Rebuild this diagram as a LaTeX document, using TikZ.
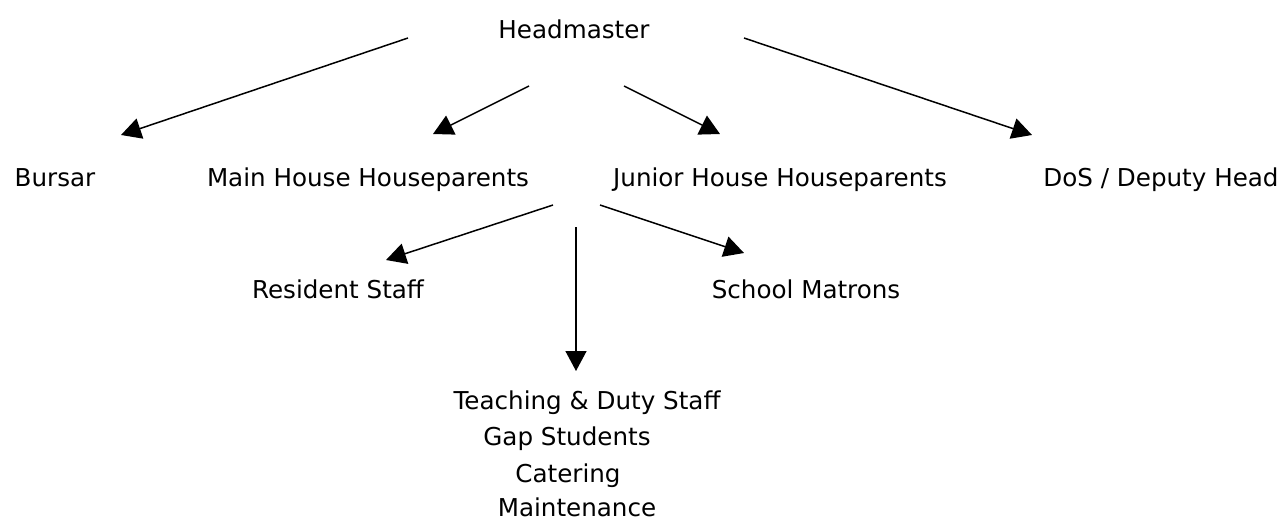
\documentclass[tikz,border=0pt]{standalone}
\usepackage{fontspec}
\setmainfont{DejaVu Sans}
\usetikzlibrary{arrows.meta}
\begin{document}
\begin{tikzpicture}[x=1pt,y=-1pt,
  lbl/.style={inner sep=0pt,anchor=base,font=\fontsize{24.6}{29}\selectfont},
  conn/.style={line width=1.5pt,-{Triangle[length=20pt,width=21pt]}}]
\useasboundingbox[fill=white] (0,0) rectangle (1282,520);
% text nodes
\node[lbl] (head) at (574,38) {Headmaster};
\node[lbl] (bursar) at (55,186) {Bursar};
\node[lbl] (main) at (368,186) {Main House Houseparents};
\node[lbl] (junior) at (780,186) {Junior House Houseparents};
\node[lbl] (dos) at (1161,186) {DoS / Deputy Head};
\node[lbl] (resident) at (338,298) {Resident Staff};
\node[lbl] (matrons) at (806,298) {School Matrons};
\node[lbl] (teach) at (587,409) {Teaching \& Duty Staff};
\node[lbl] (gap) at (567,445) {Gap Students};
\node[lbl] (cater) at (568,482) {Catering};
\node[lbl] (maint) at (577,516) {Maintenance};
% connector end points
\coordinate (s1) at (408,38);  \coordinate (t1) at (121,135);
\coordinate (s2) at (529,86);  \coordinate (t2) at (433,134);
\coordinate (s3) at (624,86);  \coordinate (t3) at (720,134);
\coordinate (s4) at (744,38);  \coordinate (t4) at (1032,135);
\coordinate (s5) at (553,205); \coordinate (t5) at (386,260);
\coordinate (s6) at (600,205); \coordinate (t6) at (744,253);
\coordinate (s7) at (576,227); \coordinate (t7) at (576,371);
\draw[conn] (s1) -- (t1);
\draw[conn] (s2) -- (t2);
\draw[conn] (s3) -- (t3);
\draw[conn] (s4) -- (t4);
\draw[conn] (s5) -- (t5);
\draw[conn] (s6) -- (t6);
\draw[conn] (s7) -- (t7);
\end{tikzpicture}
\end{document}
